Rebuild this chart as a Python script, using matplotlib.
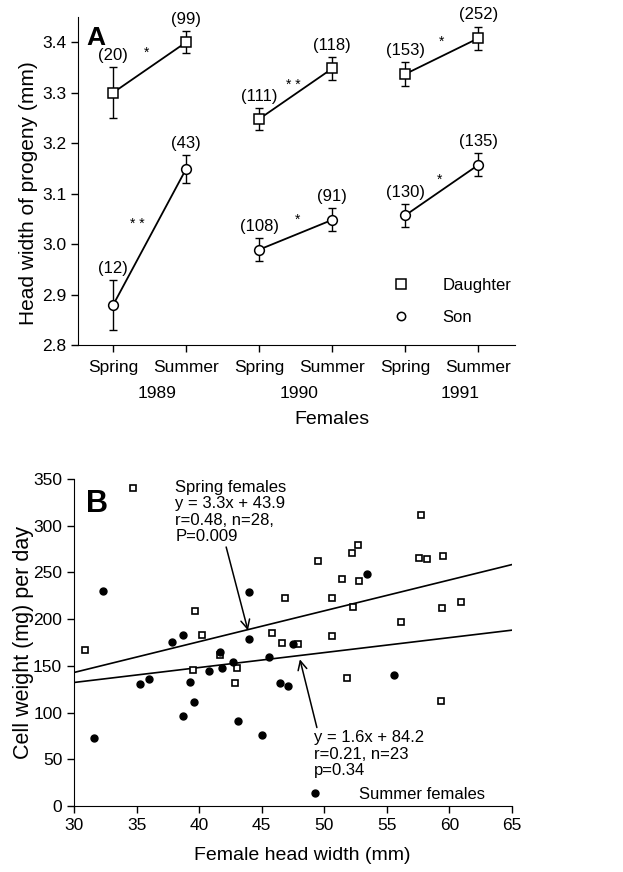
import numpy as np
import matplotlib
matplotlib.use("Agg")
import matplotlib.pyplot as plt
from matplotlib.transforms import blended_transform_factory

plt.rcParams['font.family'] = ['Liberation Sans', 'DejaVu Sans']

# Panel A data: progeny head width by season of the mother
seasons = ["Spring", "Summer", "Spring", "Summer", "Spring", "Summer"]
years = ["1989", "1990", "1991"]
year_pos = [0.6, 2.55, 4.75]

daughter_mean = [3.30, 3.40, 3.248, 3.348, 3.337, 3.408]
daughter_err = [0.05, 0.022, 0.022, 0.023, 0.023, 0.023]
daughter_n = ["(20)", "(99)", "(111)", "(118)", "(153)", "(252)"]

son_mean = [2.879, 3.149, 2.989, 3.048, 3.057, 3.157]
son_err = [0.05, 0.028, 0.023, 0.023, 0.023, 0.023]
son_n = ["(12)", "(43)", "(108)", "(91)", "(130)", "(135)"]

star_x = [0.46, 0.33, 2.47, 2.52, 4.5, 4.47]
star_y = [3.380, 3.040, 3.316, 3.049, 3.400, 3.128]
star_txt = ["*", "* *", "* *", "*", "*", "*"]

# Panel B data: cell weight vs female head width
spring_x = [34.7, 30.9, 39.7, 40.2, 39.5, 41.7, 43.0, 42.9, 45.8, 46.6,
            46.9, 47.9, 49.5, 50.6, 50.6, 51.4, 51.8, 52.2, 52.7, 52.8,
            52.3, 56.1, 57.6, 58.2, 57.7, 59.5, 59.4, 60.9, 59.3]
spring_y = [340, 167, 209, 183, 146, 162, 148, 132, 185, 174,
            223, 173, 262, 223, 182, 243, 137, 271, 279, 241,
            213, 197, 265, 264, 311, 268, 212, 218, 112]

summer_x = [32.3, 31.6, 35.3, 36.0, 37.8, 38.7, 38.7, 39.3, 39.6, 40.8,
            41.7, 41.8, 42.7, 43.1, 44.0, 44.0, 45.0, 45.6, 46.5, 47.1,
            47.5, 53.4, 55.6]
summer_y = [230, 73, 131, 136, 176, 183, 96, 133, 111, 145,
            165, 148, 154, 91, 229, 179, 76, 159, 132, 128,
            173, 248, 140]

spring_fit = (3.3, 43.9)
summer_fit = (1.6, 84.2)
fit_range = np.array([30, 65])

fig = plt.figure(figsize=(6.23, 8.72), dpi=100)

# ---------------- Panel A ----------------
ax = fig.add_axes([0.1252, 0.6044, 0.7014, 0.3761])
xpos = np.arange(len(seasons))
for i in range(0, 6, 2):
    seg = slice(i, i + 2)
    ax.plot(xpos[seg], daughter_mean[seg], color='black', lw=1.3, zorder=2)
    ax.plot(xpos[seg], son_mean[seg], color='black', lw=1.3, zorder=2)
ax.errorbar(xpos, daughter_mean, yerr=daughter_err, fmt='none', ecolor='black',
            elinewidth=1.0, capsize=3, capthick=1.0, zorder=1)
ax.errorbar(xpos, son_mean, yerr=son_err, fmt='none', ecolor='black',
            elinewidth=1.0, capsize=3, capthick=1.0, zorder=1)
ax.plot(xpos, daughter_mean, 's', ms=7, mfc='white', mec='black', mew=1.1,
        ls='none', zorder=3)
ax.plot(xpos, son_mean, 'o', ms=7, mfc='white', mec='black', mew=1.1,
        ls='none', zorder=3)

for x, m, e, t in zip(xpos, daughter_mean, daughter_err, daughter_n):
    ax.annotate(t, (x, m + e), xytext=(0, 3), textcoords='offset points',
                ha='center', va='bottom', fontsize=12)
for x, m, e, t in zip(xpos, son_mean, son_err, son_n):
    ax.annotate(t, (x, m + e), xytext=(0, 3), textcoords='offset points',
                ha='center', va='bottom', fontsize=12)
for x, y, t in zip(star_x, star_y, star_txt):
    ax.text(x, y, t, ha='center', va='center', fontsize=10)

h_d, = ax.plot([], [], 's', ms=7, mfc='white', mec='black', mew=1.1)
h_s, = ax.plot([], [], 'o', ms=6, mfc='white', mec='black', mew=1.1)
ax.legend([h_d, h_s], ["Daughter", "Son"], loc='lower left',
          bbox_to_anchor=(0.70, 0.035), frameon=False, fontsize=12,
          handlelength=1.0, handletextpad=2.0, labelspacing=1.05, borderpad=0)

ax.set_xlim(-0.48, 5.5)
ax.set_ylim(2.8, 3.45)
ax.set_yticks([2.8, 2.9, 3.0, 3.1, 3.2, 3.3, 3.4])
ax.set_yticklabels(["2.8", "2.9", "3.0", "3.1", "3.2", "3.3", "3.4"])
ax.set_xticks(xpos)
ax.set_xticklabels(seasons)
ax.tick_params(axis='both', direction='out', length=5, width=1, labelsize=12.5)
ax.tick_params(axis='x', pad=6)
for s in ['top', 'right']:
    ax.spines[s].set_visible(False)
tr = blended_transform_factory(ax.transData, ax.transAxes)
for x, y in zip(year_pos, years):
    ax.text(x, -0.147, y, transform=tr, ha='center', va='center', fontsize=12.5)
ax.set_xlabel("Females", fontsize=14)
ax.xaxis.set_label_coords(0.58, -0.2)
ax.set_ylabel("Head width of progeny (mm)", fontsize=15)
ax.yaxis.set_label_coords(-0.092, 0.463)
ax.text(0.02, 0.915, "A", transform=ax.transAxes, fontsize=19,
        fontweight='bold', va='baseline')

# ---------------- Panel B ----------------
bx = fig.add_axes([0.1188, 0.0757, 0.7030, 0.3750])
bx.plot(spring_x, spring_y, 's', ms=5, mfc='white', mec='black', mew=1.2,
        ls='none', zorder=3)
bx.plot(summer_x, summer_y, 'o', ms=5, mfc='black', mec='black',
        ls='none', zorder=3)
bx.plot(fit_range, spring_fit[0] * fit_range + spring_fit[1], color='black', lw=1.2)
bx.plot(fit_range, summer_fit[0] * fit_range + summer_fit[1], color='black', lw=1.2)

bx.annotate("Spring females\ny = 3.3x + 43.9\nr=0.48, n=28,\nP=0.009",
            xy=(43.9, 188), xytext=(38.1, 349), ha='left', va='top',
            fontsize=12, linespacing=1.12,
            arrowprops=dict(arrowstyle='->', color='black', lw=1.1,
                            shrinkA=0, shrinkB=0, mutation_scale=16,
                            relpos=(0.45, 0.0)))
bx.annotate("y = 1.6x + 84.2\nr=0.21, n=23\np=0.34",
            xy=(48.05, 157), xytext=(49.2, 81), ha='left', va='top',
            fontsize=12, linespacing=1.12,
            arrowprops=dict(arrowstyle='->', color='black', lw=1.1,
                            shrinkA=0, shrinkB=0, mutation_scale=16,
                            relpos=(0.03, 1.0)))
h_sum, = bx.plot([], [], 'o', ms=5, mfc='black', mec='black')
bx.legend([h_sum], ["Summer females"], loc='lower left',
          bbox_to_anchor=(0.512, -0.012), frameon=False, fontsize=12,
          handlelength=1.0, handletextpad=2.15, borderpad=0)

bx.set_xlim(30, 65)
bx.set_ylim(0, 350)
bx.set_xticks(range(30, 66, 5))
bx.set_yticks(range(0, 351, 50))
bx.tick_params(axis='both', direction='out', length=5, width=1, labelsize=12.5)
for s in ['top', 'right']:
    bx.spines[s].set_visible(False)
bx.set_xlabel("Female head width (mm)", fontsize=14)
bx.xaxis.set_label_coords(0.52, -0.125)
bx.set_ylabel("Cell weight (mg) per day", fontsize=15.5)
bx.yaxis.set_label_coords(-0.092, 0.5)
bx.text(0.027, 0.899, "B", transform=bx.transAxes, fontsize=22,
        fontweight='bold', va='baseline')

fig.savefig("out.png", dpi=100)
